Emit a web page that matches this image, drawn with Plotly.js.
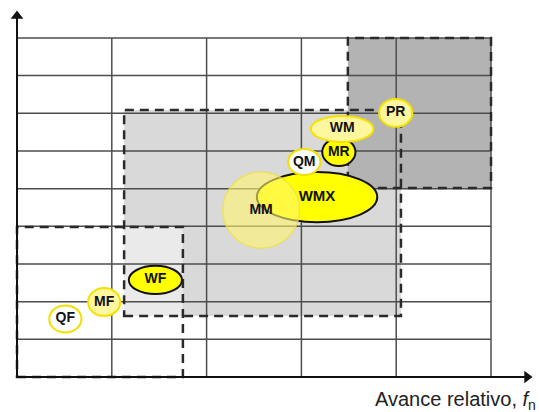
<!DOCTYPE html>
<html>
<head>
<meta charset="utf-8">
<script src="https://cdn.plot.ly/plotly-3.0.1.min.js"></script>
<style>html,body{margin:0;padding:0;background:#fff;}#chart{width:539px;height:412px;}</style>
</head>
<body>
<div id="chart"></div>
<script>
// Grid ticks
const xTicks = [0, 1, 2, 3, 4, 5];
const yTicks = [0, 1, 2, 3, 4, 5, 6, 7, 8, 9];
const axisEndX = 5.38;
const axisEndY = 9.58;

// Zones (dashed rectangles)
const zoneNames = ["medio", "desbaste", "acabado"];
const zoneX0 = [1.13, 3.49, 0.00];
const zoneX1 = [4.05, 5.00, 1.75];
const zoneY0 = [1.62, 5.02, 0.00];
const zoneY1 = [7.09, 9.00, 3.98];

// Geometries (ellipses): extents in x (feed) and y
const geoNames = ["QF", "MF", "WF", "WMX", "MM", "QM", "MR", "WM", "PR"];
const geoX0 = [0.34, 0.75, 1.18, 2.53, 2.17, 2.86, 3.22, 3.10, 3.82];
const geoX1 = [0.68, 1.09, 1.74, 3.80, 2.98, 3.20, 3.57, 3.76, 4.17];
const geoY0 = [1.18, 1.62, 2.20, 4.11, 3.42, 5.36, 5.60, 6.24, 6.64];
const geoY1 = [1.90, 2.36, 2.95, 5.44, 5.44, 6.05, 6.34, 6.93, 7.38];
const geoKind = ["white", "pale", "strong", "strong", "translucent", "white", "strong", "pale", "pale"];

const styles = {
  white: {fill: "#ffffff", line: "#f3df00", width: 2},
  pale: {fill: "#fff7a0", line: "#f5e200", width: 2},
  strong: {fill: "#ffff00", line: "#111111", width: 2},
  translucent: {fill: "rgba(255,245,110,0.6)", line: "rgba(240,225,60,0.7)", width: 1.5}
};

const shapes = [];
// zone fills
shapes.push({type: "rect", xref: "x", yref: "y", x0: zoneX0[0], x1: zoneX1[0], y0: zoneY0[0], y1: zoneY1[0], fillcolor: "#d9d9d9", line: {width: 0}, layer: "below"});
shapes.push({type: "rect", xref: "x", yref: "y", x0: zoneX0[1], x1: zoneX1[1], y0: zoneY0[1], y1: zoneY1[1], fillcolor: "#b3b3b3", line: {width: 0}, layer: "below"});
shapes.push({type: "rect", xref: "x", yref: "y", x0: zoneX0[2], x1: zoneX1[2], y0: zoneY0[2], y1: zoneY1[2], fillcolor: "rgba(255,255,255,0.45)", line: {width: 0}, layer: "below"});

// grid lines
const gx0 = xTicks[0], gx1 = xTicks[xTicks.length - 1];
const gy0 = yTicks[0], gy1 = yTicks[yTicks.length - 1];
xTicks.slice(1).forEach(v => {
  shapes.push({type: "line", xref: "x", yref: "y", x0: v, x1: v, y0: gy0, y1: gy1, line: {color: "#4d4d4d", width: 1.5}, layer: "below"});
});
yTicks.slice(1).forEach(v => {
  shapes.push({type: "line", xref: "x", yref: "y", x0: gx0, x1: gx1, y0: v, y1: v, line: {color: "#4d4d4d", width: 1.5}, layer: "below"});
});

// dashed zone borders
for (let i = 0; i < zoneNames.length; i++) {
  shapes.push({type: "rect", xref: "x", yref: "y", x0: zoneX0[i], x1: zoneX1[i], y0: zoneY0[i], y1: zoneY1[i],
    fillcolor: "rgba(0,0,0,0)", line: {color: "#2a2a2a", width: 2.5, dash: "9px,6px"}, layer: "below"});
}

// axes lines
shapes.push({type: "line", xref: "x", yref: "y", x0: 0, x1: axisEndX, y0: 0, y1: 0, line: {color: "#111", width: 2}, layer: "below"});
shapes.push({type: "line", xref: "x", yref: "y", x0: 0, x1: 0, y0: 0, y1: axisEndY, line: {color: "#111", width: 2}, layer: "below"});

// ellipses
for (let i = 0; i < geoNames.length; i++) {
  const s = styles[geoKind[i]];
  shapes.push({type: "circle", xref: "x", yref: "y", x0: geoX0[i], x1: geoX1[i], y0: geoY0[i], y1: geoY1[i],
    fillcolor: s.fill, line: {color: s.line, width: s.width}, layer: "below"});
}

const cx = geoNames.map((n, i) => (geoX0[i] + geoX1[i]) / 2);
const cy = geoNames.map((n, i) => (geoY0[i] + geoY1[i]) / 2);
const labelSizes = geoNames.map(n => n.length > 2 ? 15 : 14);

const data = [
  {
    type: "scatter", mode: "text", x: cx, y: cy, text: geoNames,
    textposition: "middle center",
    textfont: {family: "Liberation Sans, Arial, sans-serif", size: labelSizes, color: "#111", weight: "bold"},
    hoverinfo: "skip", showlegend: false, cliponaxis: false
  },
  {
    type: "scatter", mode: "markers", x: [axisEndX, 0], y: [0, axisEndY],
    marker: {symbol: ["triangle-right", "triangle-up"], size: 11, color: "#111", line: {width: 0}},
    hoverinfo: "skip", showlegend: false, cliponaxis: false
  }
];

const annotations = [
  {xref: "paper", yref: "paper", x: 1.006, y: -0.055, xanchor: "right", yanchor: "middle", showarrow: false,
   text: "Avance relativo, <i>f</i><sub>n</sub>", font: {family: "Liberation Sans, Arial, sans-serif", size: 20, color: "#222"}}
];

const layout = {
  width: 539, height: 412,
  margin: {l: 14, r: 4, t: 10, b: 32},
  paper_bgcolor: "#ffffff", plot_bgcolor: "#ffffff",
  xaxis: {range: [-0.0316, 5.464], showgrid: false, zeroline: false, showticklabels: false, ticks: "", showline: false, fixedrange: true},
  yaxis: {range: [-0.08, 9.742], showgrid: false, zeroline: false, showticklabels: false, ticks: "", showline: false, fixedrange: true},
  shapes: shapes,
  annotations: annotations,
  showlegend: false
};

Plotly.newPlot("chart", data, layout, {displayModeBar: false, staticPlot: true});
</script>
</body>
</html>
